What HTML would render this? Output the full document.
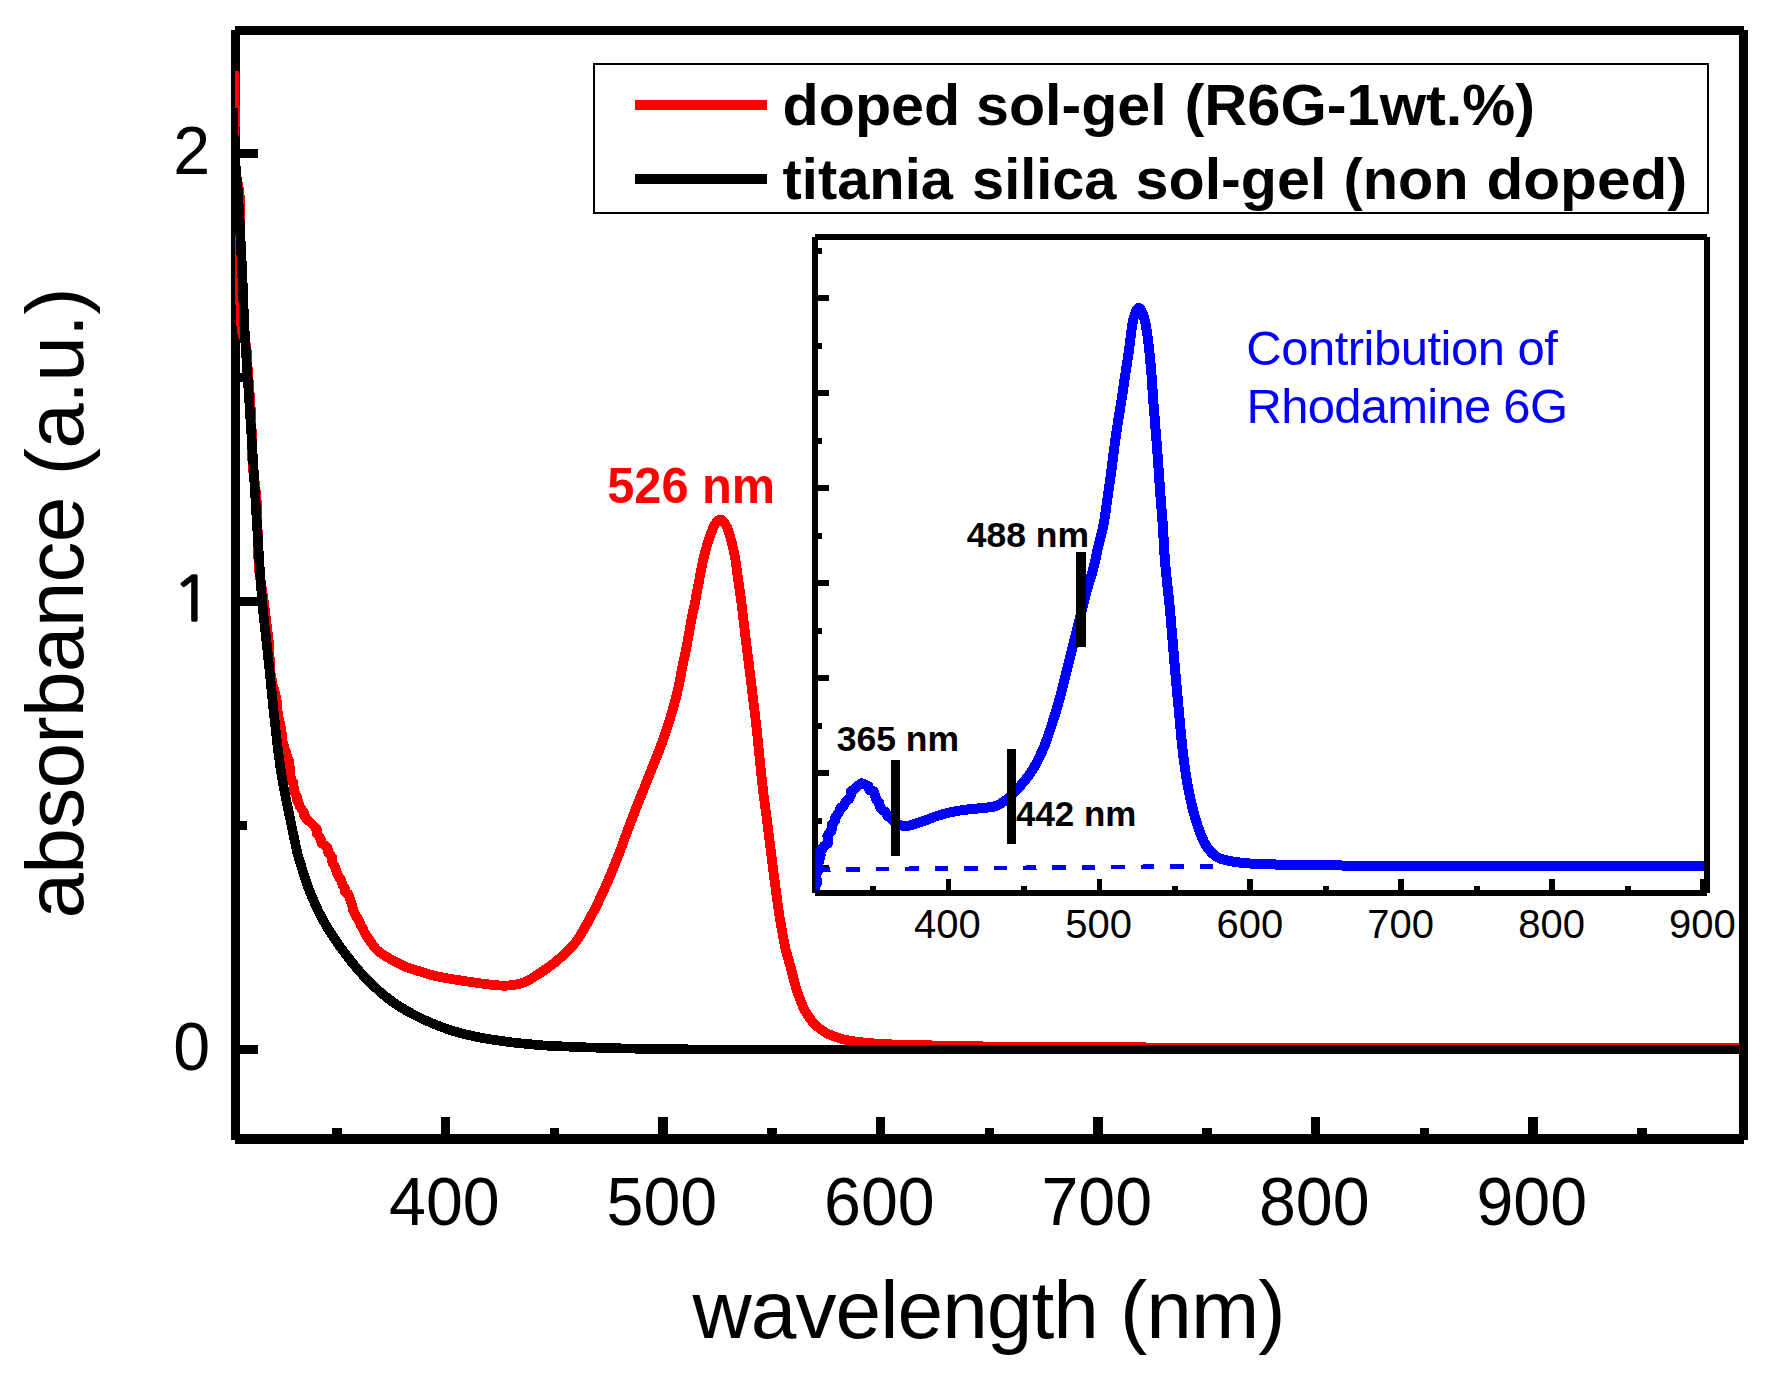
<!DOCTYPE html>
<html lang="en">
<head>
<meta charset="utf-8">
<title>Absorbance of doped and non doped titania silica sol-gel</title>
<style>html,body{margin:0;padding:0;background:#fff}svg{display:block}</style>
</head>
<body>
<svg width="1769" height="1380" viewBox="0 0 1769 1380" role="img" aria-label="Absorbance spectra of doped and non doped titania silica sol-gel">
<defs>
<clipPath id="cm"><rect x="235" y="30" width="1504.5" height="1109"/></clipPath>
<clipPath id="ci"><rect x="815.3" y="237" width="888.8" height="653.5"/></clipPath>
</defs>
<rect width="1769" height="1380" fill="#fff"/>
<g fill="none" stroke="#000" shape-rendering="crispEdges">
<path d="M235.4 30.4H1743.9M235.4 30.4V1140.0" stroke-width="8.8"/>
<path d="M235.4 1138.9H1743.9" stroke-width="9.8"/>
<path d="M1743.5 30.4V1140.0" stroke-width="9.2"/>
<path d="M445.6 1139.1 v-22M663.1 1139.1 v-22M880.6 1139.1 v-22M1098.0 1139.1 v-22M1315.5 1139.1 v-22M1533.0 1139.1 v-22M336.9 1139.1 v-11.4M554.3 1139.1 v-11.4M771.8 1139.1 v-11.4M989.3 1139.1 v-11.4M1206.8 1139.1 v-11.4M1424.3 1139.1 v-11.4M1641.7 1139.1 v-11.4M235.4 1049.4 h22.6M235.4 601.5 h22.6M235.4 153.6 h22.6M235.4 825.5 h11.4M235.4 377.6 h11.4" stroke-width="9.6"/>
</g>
<g fill="none" stroke-linejoin="round" stroke-linecap="butt" clip-path="url(#cm)" shape-rendering="crispEdges">
<path d="M234.4 71.0L234.4 73.0L234.4 75.8L234.4 79.1L234.4 82.8L234.4 86.7L234.3 90.5L234.4 94.1L234.4 97.4L234.4 100.0L234.5 104.2L234.8 107.2L235.0 109.5L235.1 112.0L235.2 115.4L235.1 118.5L235.0 122.0L234.8 124.6L234.6 127.2L234.3 130.5L234.2 135.0L234.2 137.4L234.2 140.1L234.1 143.2L234.1 146.4L234.2 149.8L234.2 153.1L234.3 156.4L234.3 159.6L234.4 162.4L234.6 165.0L235.1 169.3L235.7 173.1L236.4 176.3L237.0 179.3L237.6 182.0L238.3 185.4L238.8 188.0L239.3 192.0L239.5 194.6L239.8 197.6L240.0 200.8L240.2 204.3L240.4 207.9L240.4 211.5L240.4 215.0L240.2 217.9L240.0 220.7L239.6 223.5L239.2 226.3L238.8 229.3L238.4 232.5L238.1 236.0L238.0 240.0L238.0 242.5L238.0 245.1L238.1 247.8L238.2 250.6L238.3 253.6L238.4 256.6L238.5 259.7L238.7 262.8L238.8 266.0L239.0 269.2L239.2 272.4L239.3 275.6L239.5 278.8L239.6 282.0L239.7 285.0L239.8 288.2L239.9 291.4L240.0 294.7L240.1 298.1L240.3 301.5L240.4 304.9L240.5 308.2L240.6 311.5L240.7 314.7L240.9 317.7L241.0 320.6L241.2 323.3L241.4 325.8L241.6 328.0L242.4 333.1L243.3 336.5L244.3 339.0L245.2 341.6L246.0 345.0L246.3 347.6L246.6 350.3L246.8 353.1L247.0 356.1L247.2 359.2L247.3 362.5L247.5 366.1L247.8 370.0L248.0 372.6L248.2 375.4L248.4 378.4L248.7 381.5L249.0 384.7L249.2 388.0L249.5 391.3L249.7 394.7L250.0 397.9L250.2 401.1L250.4 404.2L250.6 407.2L250.8 410.0L251.0 413.4L251.1 416.7L251.3 419.9L251.4 423.0L251.5 426.0L251.6 428.9L251.7 431.8L251.7 434.5L251.8 437.3L251.9 440.0L252.0 443.2L252.0 446.1L252.0 448.9L252.1 451.6L252.1 454.4L252.2 457.3L252.4 460.5L252.6 464.0L252.8 466.6L253.1 469.4L253.4 472.3L253.8 475.3L254.2 478.5L254.6 481.6L255.0 484.8L255.4 488.0L255.7 491.1L256.1 494.2L256.4 497.2L256.6 500.0L256.8 503.2L257.0 506.3L257.1 509.2L257.2 512.0L257.3 514.9L257.3 517.7L257.4 520.6L257.4 523.6L257.5 526.7L257.6 530.0L257.7 532.9L257.8 535.9L257.8 539.1L257.9 542.3L258.0 545.6L258.1 548.9L258.2 552.2L258.3 555.5L258.4 558.7L258.6 561.9L258.8 565.0L259.0 568.0L259.3 571.4L259.7 574.7L260.1 577.8L260.6 580.8L261.1 583.9L261.6 586.9L262.1 590.0L262.6 593.2L263.1 596.5L263.6 600.0L264.0 602.8L264.3 605.8L264.7 608.8L265.1 611.9L265.5 615.0L265.9 618.2L266.3 621.4L266.7 624.6L267.1 627.8L267.4 631.0L267.8 634.1L268.1 637.1L268.5 639.6L269.0 643.3L269.3 646.9L269.3 649.8L269.5 653.2L269.6 657.0L269.6 660.6L270.3 663.3L270.0 666.3L270.2 669.0L270.4 671.9L270.7 674.5L271.6 678.2L272.5 682.0L272.6 684.7L273.7 688.4L274.6 691.1L274.7 693.2L275.7 695.7L275.8 699.3L277.0 702.4L277.1 705.3L277.5 709.9L277.7 711.8L278.1 715.4L278.8 718.6L279.7 722.1L279.9 725.6L281.0 728.4L281.1 731.0L281.9 734.1L281.8 737.6L282.3 740.5L283.0 743.0L284.1 745.7L284.5 749.3L286.2 752.4L286.5 754.5L287.4 758.1L288.8 760.8L288.9 765.5L290.2 768.4L290.2 771.3L290.5 776.7L291.5 779.9L292.9 782.0L293.5 785.1L294.2 790.4L294.5 792.4L296.8 796.5L296.8 799.8L298.6 802.1L299.5 805.9L301.7 809.5L303.8 812.4L303.5 814.7L305.2 816.7L307.4 820.4L309.0 821.0L313.2 825.2L315.0 827.0L317.3 830.3L316.7 833.5L319.3 836.4L320.8 839.8L321.6 843.1L324.8 845.4L327.6 848.0L327.8 851.9L329.0 853.2L332.0 857.1L331.8 859.7L332.5 862.9L334.8 866.3L336.0 869.9L337.4 874.2L338.6 876.6L341.0 879.9L342.1 882.7L342.3 884.5L345.5 889.8L345.1 892.1L348.0 893.7L349.2 896.0L350.6 900.3L351.4 902.9L352.6 907.1L353.1 910.0L354.4 912.6L355.9 916.1L357.2 917.7L359.3 921.8L360.9 925.5L362.5 927.9L363.7 930.9L365.2 933.9L367.0 936.7L368.7 939.4L370.5 942.1" stroke="#f00" stroke-width="9.8"/>
<path d="M365.4 934.0C367.2 936.6 372.2 945.2 376.5 949.5C380.8 953.8 386.5 956.7 391.4 959.6C396.3 962.5 401.1 964.8 405.9 966.8C410.7 968.8 415.6 970.1 420.4 971.6C425.2 973.1 427.6 974.3 434.9 975.9C442.1 977.5 454.2 979.5 463.9 981.0C473.6 982.5 485.6 984.1 492.9 984.9C500.1 985.7 502.6 985.9 507.4 985.6C512.2 985.3 517.8 984.4 521.9 983.2C526.0 982.0 526.4 981.6 531.7 978.3C537.0 975.0 546.2 969.4 553.5 963.5C560.8 957.6 569.1 950.5 575.2 942.8C581.4 935.1 586.0 925.2 590.4 917.4C594.8 909.5 597.9 903.0 601.3 895.7C604.7 888.5 607.8 881.1 610.9 873.9C614.0 866.6 616.8 859.5 619.6 852.2C622.4 845.0 624.9 837.6 627.6 830.4C630.3 823.1 633.1 815.9 635.9 808.7C638.7 801.5 641.7 794.2 644.6 787.0C647.5 779.8 650.4 772.5 653.3 765.2C656.1 758.0 659.1 750.8 661.7 743.5C664.3 736.2 666.8 729.0 669.1 721.7C671.4 714.5 673.8 706.0 675.4 700.0C677.0 694.0 677.4 691.7 678.7 685.7C680.0 679.7 681.5 671.1 683.0 663.9C684.5 656.6 686.0 649.5 687.4 642.2C688.8 635.0 689.9 627.6 691.3 620.4C692.7 613.1 694.3 605.9 695.7 598.7C697.1 591.5 698.4 584.2 699.8 577.0C701.2 569.8 702.4 562.5 704.3 555.2C706.1 548.0 709.0 538.8 710.9 533.5C712.8 528.2 713.9 525.9 715.5 523.5C717.1 521.1 718.7 519.4 720.3 519.4C721.9 519.4 723.5 521.1 725.0 523.5C726.5 525.9 727.7 528.2 729.3 533.5C730.9 538.8 733.2 548.0 734.6 555.2C736.0 562.5 736.8 569.8 737.8 577.0C738.8 584.2 739.9 591.5 740.9 598.7C741.9 605.9 742.6 613.1 743.5 620.4C744.4 627.6 745.2 635.0 746.1 642.2C747.0 649.5 748.0 656.6 748.9 663.9C749.8 671.1 750.6 678.5 751.5 685.7C752.4 693.0 753.2 700.2 754.1 707.4C755.0 714.6 755.9 721.9 756.7 729.1C757.5 736.4 758.2 743.6 758.9 750.9C759.6 758.1 760.4 766.1 761.1 772.6C761.8 779.1 762.0 781.5 763.0 790.0C764.0 798.5 765.8 810.7 767.4 823.5C769.0 836.3 770.9 852.5 772.8 867.0C774.7 881.5 777.1 899.9 778.6 910.4C780.1 920.9 780.8 923.6 781.9 930.0C783.0 936.4 784.0 942.6 785.5 948.9C787.0 955.2 789.1 961.4 790.8 967.7C792.5 974.0 793.8 980.3 795.7 986.6C797.7 992.9 800.5 1000.8 802.5 1005.5C804.5 1010.2 805.6 1011.8 807.6 1014.9C809.6 1018.0 811.6 1021.3 814.7 1024.3C817.8 1027.3 821.8 1030.4 826.0 1032.8C830.2 1035.2 835.5 1037.1 840.2 1038.5C844.9 1039.9 848.8 1040.5 854.3 1041.3C859.8 1042.1 865.3 1042.8 873.2 1043.4C881.1 1044.0 887.5 1044.4 901.5 1044.8C915.5 1045.2 934.3 1045.5 957.4 1045.9C980.5 1046.3 982.9 1046.7 1040.0 1047.0C1097.1 1047.3 1182.5 1047.8 1300.0 1048.0C1417.5 1048.2 1670.8 1048.3 1745.0 1048.4" stroke="#f00" stroke-width="9.8"/>
<path d="M232.9 108.0C233.0 111.7 233.0 121.5 233.4 130.0C233.8 138.5 234.4 149.2 235.1 159.0C235.8 168.8 236.8 176.2 237.7 189.0C238.6 201.8 239.6 220.0 240.4 235.5C241.2 251.0 241.9 266.4 242.6 281.9C243.3 297.4 243.8 315.3 244.5 328.3C245.2 341.3 245.6 346.4 246.5 360.0C247.4 373.6 248.7 392.6 249.8 410.0C250.9 427.4 252.2 446.9 253.3 464.4C254.4 481.9 255.3 497.6 256.4 515.0C257.5 532.4 258.7 552.9 259.8 568.7C260.9 584.5 261.9 598.1 263.0 610.0C264.1 621.9 265.1 629.2 266.3 640.0C267.5 650.8 268.8 663.2 270.0 674.8C271.2 686.4 272.3 698.0 273.5 709.6C274.7 721.2 275.9 732.7 277.3 744.3C278.8 755.9 280.2 767.5 282.2 779.1C284.2 790.7 286.7 802.3 289.1 813.9C291.5 825.5 294.7 841.0 296.4 848.7C298.1 856.4 297.3 853.3 299.4 860.0C301.5 866.7 305.1 879.3 308.8 889.0C312.6 898.7 316.6 908.3 321.9 918.0C327.1 927.7 333.2 937.2 340.3 947.0C347.4 956.8 355.7 967.5 364.2 976.5C372.7 985.5 382.0 994.1 391.4 1001.0C400.8 1007.9 410.7 1013.2 420.4 1018.0C430.1 1022.8 439.7 1026.6 449.4 1029.8C459.1 1033.0 468.7 1035.2 478.4 1037.2C488.1 1039.2 498.8 1040.6 507.4 1041.8C516.0 1043.0 522.6 1043.5 530.0 1044.2C537.4 1044.9 537.6 1045.2 551.6 1045.9C565.6 1046.6 592.6 1047.7 614.0 1048.2C635.4 1048.8 649.0 1049.0 680.0 1049.2C711.0 1049.4 622.5 1049.4 800.0 1049.4C977.5 1049.4 1587.5 1049.4 1745.0 1049.4" stroke="#000" stroke-width="9.7"/>
</g>
<rect x="594" y="64" width="1114" height="149" fill="#fff" stroke="#000" stroke-width="1.8" shape-rendering="crispEdges"/>
<path d="M634.7 105H767" stroke="#f00" stroke-width="9.5" shape-rendering="crispEdges"/>
<path d="M634.7 179.1H767" stroke="#000" stroke-width="9.5" shape-rendering="crispEdges"/>
<rect x="815.2" y="237.1" width="891.8" height="655.9" fill="#fff" stroke="none"/>
<g fill="none" stroke="#000" shape-rendering="crispEdges">
<path d="M815.2 237.1H1707.0M815.2 893.0H1707.0M815.2 237.1V893.0M1707.0 237.1V893.0" stroke-width="6.0"/>
<path d="M948.5 893.0 v-13.8M1099.4 893.0 v-13.8M1250.3 893.0 v-13.8M1401.3 893.0 v-13.8M1552.2 893.0 v-13.8M1703.1 893.0 v-13.8M873.0 893.0 v-7.2M1024.0 893.0 v-7.2M1174.9 893.0 v-7.2M1325.8 893.0 v-7.2M1476.7 893.0 v-7.2M1627.6 893.0 v-7.2M815.2 297.9 h13.8M815.2 392.9 h13.8M815.2 487.9 h13.8M815.2 582.9 h13.8M815.2 677.9 h13.8M815.2 772.9 h13.8M815.2 867.9 h13.8M815.2 250.8 h6.8M815.2 345.8 h6.8M815.2 440.8 h6.8M815.2 535.8 h6.8M815.2 630.8 h6.8M815.2 725.8 h6.8M815.2 820.8 h6.8" stroke-width="5.8"/>
</g>
<path d="M817.0 869.6L1213.5 866.2" fill="none" shape-rendering="crispEdges" stroke="#00f" stroke-width="4.6" stroke-dasharray="13.5 15.93"/>
<g fill="none" stroke-linejoin="round" clip-path="url(#ci)" shape-rendering="crispEdges">
<path d="M814.9 892.4L814.9 887.3L817.1 882.8L817.4 881.8L815.9 876.1L816.6 873.8L818.8 869.9L814.8 861.6L818.5 863.0L820.7 855.0L817.8 853.4L820.2 852.1L824.3 845.7L827.9 843.4L828.4 839.9L827.4 836.2L830.4 831.4L831.5 831.2L831.9 824.8L831.8 826.0L835.0 820.5L834.6 819.3L836.7 815.3L839.2 811.8L840.7 807.9L843.3 806.6L845.7 801.8L849.3 798.7L851.4 793.5L851.2 791.0L854.2 789.6L857.0 786.3L861.3 783.3L864.2 784.3L868.4 786.0L869.4 790.3L873.5 791.1L875.1 795.5L876.1 799.1L879.0 802.4L879.1 804.0L880.4 807.7L884.0 811.0L885.7 812.4L888.0 816.4L891.5 818.4L893.5 821.1L896.1 823.5L900.2 825.2L904.4 826.2" stroke="#00f" stroke-width="10"/>
<path d="M896.3 823.4C897.6 823.9 901.9 826.0 904.4 826.2C906.9 826.5 908.1 825.9 911.5 824.9C914.9 823.9 920.2 822.1 925.0 820.5C929.8 818.9 934.2 816.7 940.0 815.0C945.8 813.3 953.3 811.6 960.0 810.5C966.7 809.4 974.2 809.0 980.0 808.2C985.8 807.5 990.4 807.8 995.0 806.2C999.6 804.7 1003.3 802.1 1007.5 798.8C1011.7 795.4 1015.8 791.0 1020.0 786.2C1024.2 781.5 1028.5 776.5 1032.5 770.0C1036.5 763.5 1040.4 755.4 1043.8 747.5C1047.1 739.6 1049.8 730.8 1052.5 722.5C1055.2 714.2 1057.7 705.8 1060.0 697.5C1062.3 689.2 1064.2 680.8 1066.2 672.5C1068.3 664.2 1070.4 655.8 1072.5 647.5C1074.6 639.2 1076.5 631.7 1078.8 622.5C1081.0 613.3 1083.9 601.2 1086.2 592.5C1088.6 583.8 1091.1 577.1 1093.0 570.0C1094.9 562.9 1095.8 557.5 1097.5 550.0C1099.2 542.5 1101.9 533.3 1103.5 525.0C1105.1 516.7 1106.0 508.3 1107.2 500.0C1108.5 491.7 1109.6 483.3 1110.8 475.0C1111.9 466.7 1112.9 458.3 1114.0 450.0C1115.1 441.7 1116.2 433.3 1117.5 425.0C1118.8 416.7 1120.2 408.3 1121.5 400.0C1122.8 391.7 1124.0 383.3 1125.2 375.0C1126.5 366.7 1127.8 358.3 1129.0 350.0C1130.2 341.7 1131.2 331.2 1132.2 325.0C1133.3 318.8 1134.2 315.8 1135.3 313.0C1136.4 310.2 1137.7 308.0 1138.9 308.0C1140.1 308.0 1141.5 310.2 1142.6 313.0C1143.7 315.8 1144.6 318.8 1145.8 325.0C1146.9 331.2 1148.3 341.7 1149.2 350.0C1150.2 358.3 1150.8 366.7 1151.5 375.0C1152.2 383.3 1152.6 391.7 1153.2 400.0C1153.9 408.3 1154.6 416.7 1155.2 425.0C1155.9 433.3 1156.6 441.7 1157.2 450.0C1157.9 458.3 1158.4 466.7 1159.0 475.0C1159.6 483.3 1160.1 491.7 1160.8 500.0C1161.4 508.3 1162.2 516.7 1162.8 525.0C1163.3 533.3 1163.8 542.5 1164.2 550.0C1164.8 557.5 1164.8 560.0 1165.8 570.0C1166.7 580.0 1168.6 595.0 1170.0 610.0C1171.4 625.0 1172.8 643.3 1174.2 660.0C1175.7 676.7 1177.2 693.3 1178.8 710.0C1180.3 726.7 1181.9 745.4 1183.8 760.0C1185.6 774.6 1187.7 786.6 1190.0 797.5C1192.3 808.4 1194.7 817.2 1197.5 825.5C1200.3 833.8 1203.4 841.6 1207.0 847.0C1210.6 852.4 1213.9 855.5 1219.0 858.0C1224.1 860.5 1230.0 861.3 1237.5 862.3C1245.0 863.3 1249.1 863.7 1264.3 864.2C1279.5 864.7 1297.8 865.1 1328.7 865.4C1359.7 865.7 1386.5 865.9 1450.0 866.0C1513.5 866.1 1666.7 866.0 1710.0 866.0" stroke="#00f" stroke-width="10"/>
</g>
<path d="M895.6 760V855.8M1011.4 749.2V843.8M1081 552V646.8" fill="none" stroke="#000" stroke-width="9.4" shape-rendering="crispEdges"/>
<g font-family="'Liberation Sans', Arial, Helvetica, sans-serif" fill="#000">
<g font-size="68.8" text-anchor="end">
<text transform="translate(210.2 1070.2) scale(0.964 1)">0</text>
<text transform="translate(210.2 174.4) scale(0.964 1)">2</text>
<text transform="translate(212.7 621.0) scale(1.08 1)" font-size="62" font-family="NanumGothic, 'Liberation Sans', sans-serif" stroke="#000" stroke-width="1.7" stroke-linejoin="miter">1</text>
</g>
<g font-size="68.8" text-anchor="middle">
<text transform="translate(444.4 1225.4) scale(0.964 1)">400</text>
<text transform="translate(661.9 1225.4) scale(0.964 1)">500</text>
<text transform="translate(879.4 1225.4) scale(0.964 1)">600</text>
<text transform="translate(1096.8 1225.4) scale(0.964 1)">700</text>
<text transform="translate(1314.3 1225.4) scale(0.964 1)">800</text>
<text transform="translate(1531.8 1225.4) scale(0.964 1)">900</text>
</g>
<text x="692.6" y="1337.8" font-size="82" textLength="593" lengthAdjust="spacing">wavelength (nm)</text>
<text transform="translate(83.4 918.5) rotate(-90)" font-size="82" textLength="631" lengthAdjust="spacing">absorbance (a.u.)</text>
<g font-weight="bold" font-size="57.4">
<text transform="translate(782.50 124.6) scale(1.0324 1)">doped</text>
<text transform="translate(975.99 124.6) scale(1.0312 1)">sol-gel</text>
<text transform="translate(1184.48 124.6) scale(1.0372 1)">(R6G-1wt.%)</text>
<text transform="translate(782.52 199.2) scale(1.0087 1)">titania</text>
<text transform="translate(972.05 199.2) scale(1.0059 1)">silica</text>
<text transform="translate(1135.50 199.2) scale(1.0324 1)">sol-gel</text>
<text transform="translate(1343.55 199.2) scale(1.0065 1)">(non</text>
<text transform="translate(1486.44 199.2) scale(1.0506 1)">doped)</text>
</g>
<text transform="translate(607.2 503.3) scale(0.963 1)" font-weight="bold" font-size="50.6" fill="#f00">526 nm</text>
<g font-size="41.4" text-anchor="middle">
<text transform="translate(947.4 937.7) scale(0.966 1)">400</text>
<text transform="translate(1098.6 937.7) scale(0.966 1)">500</text>
<text transform="translate(1249.9 937.7) scale(0.966 1)">600</text>
<text transform="translate(1400.6 937.7) scale(0.966 1)">700</text>
<text transform="translate(1551.6 937.7) scale(0.966 1)">800</text>
<text transform="translate(1702.3 937.7) scale(0.966 1)">900</text>
</g>
<g font-weight="bold" font-size="34.4">
<text transform="translate(836.8 750.6) scale(1.032 1)">365 nm</text>
<text transform="translate(1016 825.6) scale(1.016 1)">442 nm</text>
<text transform="translate(966.8 547.1) scale(1.032 1)">488 nm</text>
</g>
<g fill="#00f" font-size="49">
<text x="1246.3" y="365" textLength="311.6" lengthAdjust="spacing">Contribution of</text>
<text x="1246.5" y="422.5" textLength="321.5" lengthAdjust="spacing">Rhodamine 6G</text>
</g>
</g>
</svg>
</body>
</html>
